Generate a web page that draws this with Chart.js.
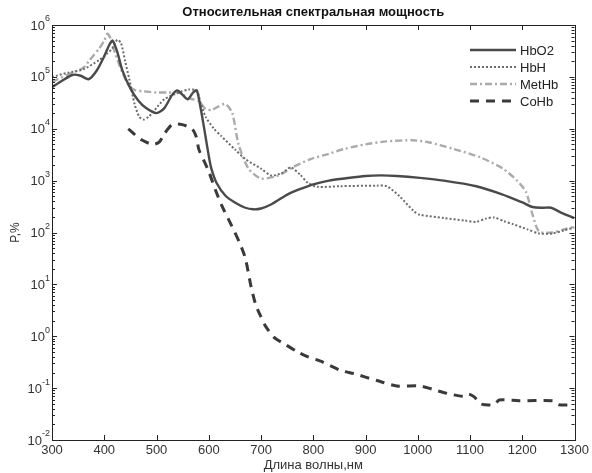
<!DOCTYPE html>
<html>
<head>
<meta charset="utf-8">
<script src="https://cdn.jsdelivr.net/npm/chart.js@4.4.1/dist/chart.umd.min.js"></script>
<style>
  html, body { margin: 0; padding: 0; background: #fff; }
  #wrap { width: 592px; height: 473px; }
</style>
</head>
<body>
<div id="wrap"><canvas id="spectra"></canvas></div>
<script>
// wavelengths (nm) and values (%)
var hbo2Wl  = [300, 320, 340, 355, 370, 385, 400, 410, 416, 425, 435, 450, 465, 480, 500, 515, 530, 540, 550, 560, 570, 577, 583, 590, 600, 605, 615, 632, 650, 670, 685, 700, 720, 752, 780, 800, 830, 860, 900, 930, 960, 1004, 1050, 1112, 1160, 1200, 1220, 1240, 1255, 1275, 1300];
var hbo2Val = [6.3e4, 8.5e4, 1.1e5, 1.05e5, 9e4, 1.3e5, 2.5e5, 4.2e5, 5e5, 3e5, 1.3e5, 6e4, 3.5e4, 2.5e4, 2e4, 2.5e4, 4.5e4, 5.5e4, 4.5e4, 3.7e4, 5e4, 5.5e4, 3e4, 1.2e4, 3000, 1700, 900, 510, 380, 300, 280, 290, 350, 550, 720, 850, 1000, 1100, 1230, 1260, 1230, 1130, 1000, 780, 550, 380, 310, 300, 300, 240, 190];

var hbhWl  = [300, 330, 360, 390, 405, 415, 425, 432, 440, 448, 458, 467, 475, 485, 495, 515, 543, 562, 577, 585, 594, 610, 624, 650, 670, 700, 720, 740, 757, 775, 790, 808, 850, 922, 941, 965, 992, 1004, 1050, 1090, 1112, 1130, 1146, 1165, 1182, 1210, 1232, 1258, 1280, 1300];
var hbhVal = [1e5, 1.2e5, 1.4e5, 2.1e5, 2.8e5, 3.5e5, 5.2e5, 4.5e5, 2e5, 9e4, 3e4, 1.7e4, 1.5e4, 1.7e4, 2.2e4, 3.7e4, 5e4, 5.7e4, 5.4e4, 3e4, 1.7e4, 1e4, 7200, 4000, 2600, 1700, 1250, 1400, 1800, 1300, 900, 760, 780, 800, 780, 500, 260, 220, 190, 170, 160, 185, 195, 165, 145, 115, 96, 96, 110, 125];

var methbWl  = [300, 330, 360, 372, 391, 400, 406, 412, 420, 435, 448, 460, 473, 500, 520, 543, 549, 565, 581, 594, 605, 619, 632, 645, 657, 676, 700, 733, 760, 795, 830, 860, 900, 940, 990, 1020, 1068, 1120, 1163, 1190, 1207, 1220, 1232, 1258, 1280, 1300];
var methbVal = [8e4, 1.1e5, 1.5e5, 2.1e5, 3.6e5, 5e5, 6.8e5, 5.5e5, 3e5, 1.2e5, 6.5e4, 5.5e4, 5.3e4, 5e4, 5e4, 5e4, 4.6e4, 3.8e4, 3.4e4, 2.4e4, 2.3e4, 2.7e4, 3e4, 2e4, 5000, 1700, 1100, 1250, 1800, 2600, 3300, 4100, 5000, 5700, 6000, 5500, 4100, 2800, 1700, 1000, 610, 215, 105, 100, 115, 130];

var cohbWl  = [446, 460, 473, 492, 505, 515, 530, 549, 568, 576, 581, 590, 600, 613, 625, 643, 660, 670, 681, 690, 698, 708, 725, 746, 770, 790, 814, 852, 878, 922, 960, 1004, 1036, 1061, 1087, 1097, 1108, 1120, 1127, 1146, 1156, 1194, 1258, 1270, 1300];
var cohbVal = [1e4, 7500, 6000, 5000, 5500, 8000, 1.2e4, 1.2e4, 1e4, 7000, 4000, 2500, 1500, 650, 330, 140, 60, 32, 9, 4, 2.6, 1.6, 0.95, 0.7, 0.5, 0.4, 0.33, 0.22, 0.19, 0.14, 0.11, 0.11, 0.09, 0.077, 0.07, 0.077, 0.068, 0.05, 0.048, 0.048, 0.059, 0.057, 0.057, 0.048, 0.048];

var seriesNames = ["HbO2", "HbH", "MetHb", "CoHb"];
var xTicks = [300, 400, 500, 600, 700, 800, 900, 1000, 1100, 1200, 1300];
var yDecades = [-2, -1, 0, 1, 2, 3, 4, 5, 6];

function pts(wl, val) {
    return wl.map(function (w, i) { return { x: w, y: val[i] }; });
}

var FONT = '"Liberation Sans", Arial, sans-serif';

// box, inward ticks, power-of-ten labels, title and legend, MATLAB style
var matlabFrame = {
    id: 'matlabFrame',
    afterDraw: function (chart) {
        var ctx = chart.ctx, a = chart.chartArea;
        var xs = chart.scales.x, ys = chart.scales.y;
        ctx.save();
        ctx.strokeStyle = '#222';
        ctx.lineWidth = 1;
        ctx.strokeRect(Math.round(a.left) + 0.5, Math.round(a.top) + 0.5,
                       Math.round(a.right - a.left), Math.round(a.bottom - a.top));
        ctx.beginPath();
        xTicks.forEach(function (v) {
            var px = Math.round(xs.getPixelForValue(v)) + 0.5;
            ctx.moveTo(px, a.bottom); ctx.lineTo(px, a.bottom - 5);
            ctx.moveTo(px, a.top); ctx.lineTo(px, a.top + 5);
        });
        yDecades.forEach(function (e) {
            for (var k = 1; k <= 9; k++) {
                var v = k * Math.pow(10, e);
                if (v > 1e6 * 1.0001) break;
                var py = Math.round(ys.getPixelForValue(v)) + 0.5;
                var len = k === 1 ? 5 : 3;
                ctx.moveTo(a.left, py); ctx.lineTo(a.left + len, py);
                ctx.moveTo(a.right, py); ctx.lineTo(a.right - len, py);
            }
        });
        ctx.stroke();

        // y tick labels: 10 with raised exponent
        ctx.fillStyle = '#333';
        ctx.textBaseline = 'middle';
        yDecades.forEach(function (e) {
            var py = ys.getPixelForValue(Math.pow(10, e));
            var ex = String(e);
            ctx.font = '9px ' + FONT;
            var ew = ctx.measureText(ex).width;
            var right = a.left - 2;
            ctx.textAlign = 'left';
            ctx.fillText(ex, right - ew, py - 6);
            ctx.font = '13px ' + FONT;
            ctx.textAlign = 'right';
            ctx.fillText('10', right - ew, py + 1);
        });

        // title
        ctx.fillStyle = '#111';
        ctx.font = 'bold 13px ' + FONT;
        ctx.textAlign = 'center';
        ctx.textBaseline = 'middle';
        ctx.fillText('Относительная спектральная мощность', (a.left + a.right) / 2, 12);

        // legend
        ctx.font = '13px ' + FONT;
        ctx.textAlign = 'left';
        chart.data.datasets.forEach(function (ds, i) {
            var y = 50 + i * 17;
            ctx.beginPath();
            ctx.strokeStyle = ds.borderColor;
            ctx.lineWidth = ds.borderWidth;
            ctx.setLineDash(ds.borderDash || []);
            ctx.moveTo(470, y); ctx.lineTo(516, y);
            ctx.stroke();
            ctx.setLineDash([]);
            ctx.fillStyle = '#222';
            ctx.fillText(ds.label, 520, y + 1);
        });
        ctx.restore();
    }
};

var spectraChart = new Chart(document.getElementById('spectra'), {
    type: 'line',
    data: {
        datasets: [
            { label: seriesNames[0], data: pts(hbo2Wl, hbo2Val), borderColor: '#4a4a4a', borderWidth: 2.4, tension: 0.25 },
            { label: seriesNames[1], data: pts(hbhWl, hbhVal), borderColor: '#6c6c6c', borderWidth: 2, borderDash: [2, 2], tension: 0.25 },
            { label: seriesNames[2], data: pts(methbWl, methbVal), borderColor: '#ababab', borderWidth: 2.4, borderDash: [7, 3, 2, 3], tension: 0.25 },
            { label: seriesNames[3], data: pts(cohbWl, cohbVal), borderColor: '#3a3a3a', borderWidth: 3, borderDash: [9, 7], tension: 0.25 }
        ]
    },
    options: {
        responsive: true,
        maintainAspectRatio: false,
        animation: false,
        elements: { point: { radius: 0 } },
        layout: { padding: { top: 25, right: 14, left: 0, bottom: 0 } },
        plugins: { legend: { display: false }, title: { display: false }, tooltip: { enabled: false } },
        scales: {
            x: {
                type: 'linear',
                min: 300, max: 1300,
                afterBuildTicks: function (s) { s.ticks = xTicks.map(function (v) { return { value: v }; }); },
                afterFit: function (s) { s.height = 33; },
                ticks: { autoSkip: false, maxRotation: 0, padding: 3, color: '#333',
                         font: { family: FONT, size: 13 },
                         callback: function (v) { return String(v); } },
                grid: { display: false, drawTicks: false },
                border: { display: false },
                title: { display: true, text: 'Длина волны,нм', color: '#333', padding: 0,
                         font: { family: FONT, size: 13 } }
            },
            y: {
                type: 'logarithmic',
                min: 0.01, max: 1e6,
                afterBuildTicks: function (s) { s.ticks = yDecades.map(function (e) { return { value: Math.pow(10, e) }; }); },
                afterFit: function (s) { s.width = 52; },
                ticks: { display: false },
                grid: { display: false, drawTicks: false },
                border: { display: false },
                title: { display: true, text: 'P,%', color: '#333', padding: { top: 8, bottom: 0 },
                         font: { family: FONT, size: 12 } }
            }
        }
    },
    plugins: [matlabFrame]
});
</script>
</body>
</html>
